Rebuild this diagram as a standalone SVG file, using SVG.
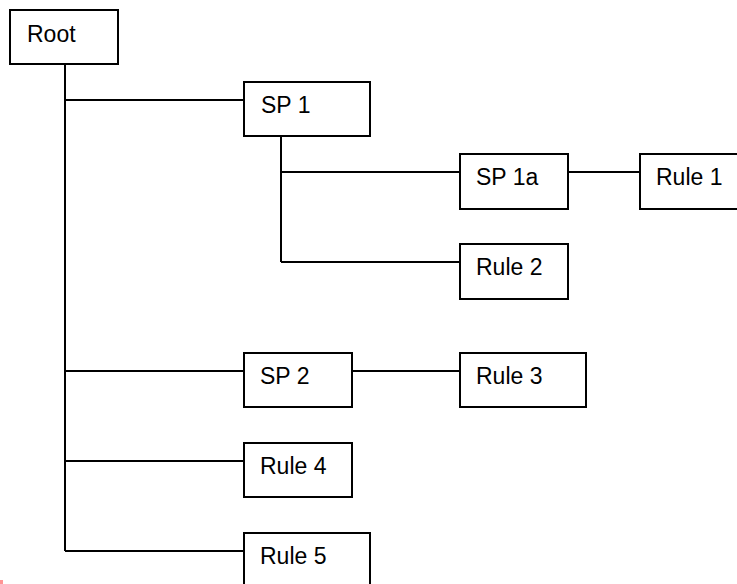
<svg xmlns="http://www.w3.org/2000/svg" width="737" height="584" viewBox="0 0 737 584">
<style>
.box{fill:#fff;stroke:#000;stroke-width:2}
.lbl{font-family:"Liberation Sans",Arial,sans-serif;font-size:23px;fill:#000}
.conn{fill:none;stroke:#000;stroke-width:2}
</style>
<rect width="737" height="584" fill="#fff"/>
<g id="connectors">
<path class="conn" d="M65,64 V551 M65,100 H244 M65,371 H244 M65,461 H244 M65,551 H244"/>
<path class="conn" d="M281,136 V262 M281,172 H460 M281,262 H460"/>
<path class="conn" d="M568,172 H640 M352,371 H460"/>
</g>
<g id="root"><rect class="box" x="10" y="10" width="108" height="54"/><text class="lbl" x="27" y="42">Root</text></g>
<g id="sp1"><rect class="box" x="244" y="82" width="126" height="54"/><text class="lbl" x="261" y="113">SP 1</text></g>
<g id="sp1a"><rect class="box" x="460" y="154" width="108" height="55"/><text class="lbl" x="476" y="185">SP 1a</text></g>
<g id="rule1"><rect class="box" x="640" y="154" width="108" height="55"/><text class="lbl" x="656" y="185">Rule 1</text></g>
<g id="rule2"><rect class="box" x="460" y="244" width="108" height="55"/><text class="lbl" x="476" y="275">Rule 2</text></g>
<g id="sp2"><rect class="box" x="244" y="353" width="108" height="54"/><text class="lbl" x="260" y="384">SP 2</text></g>
<g id="rule3"><rect class="box" x="460" y="353" width="126" height="54"/><text class="lbl" x="476" y="384">Rule 3</text></g>
<g id="rule4"><rect class="box" x="244" y="443" width="108" height="54"/><text class="lbl" x="260" y="474">Rule 4</text></g>
<g id="rule5"><rect class="box" x="244" y="533" width="126" height="54"/><text class="lbl" x="260" y="564">Rule 5</text></g>
<rect x="0" y="580" width="3" height="4" fill="#f66" opacity="0.7"/>
</svg>
